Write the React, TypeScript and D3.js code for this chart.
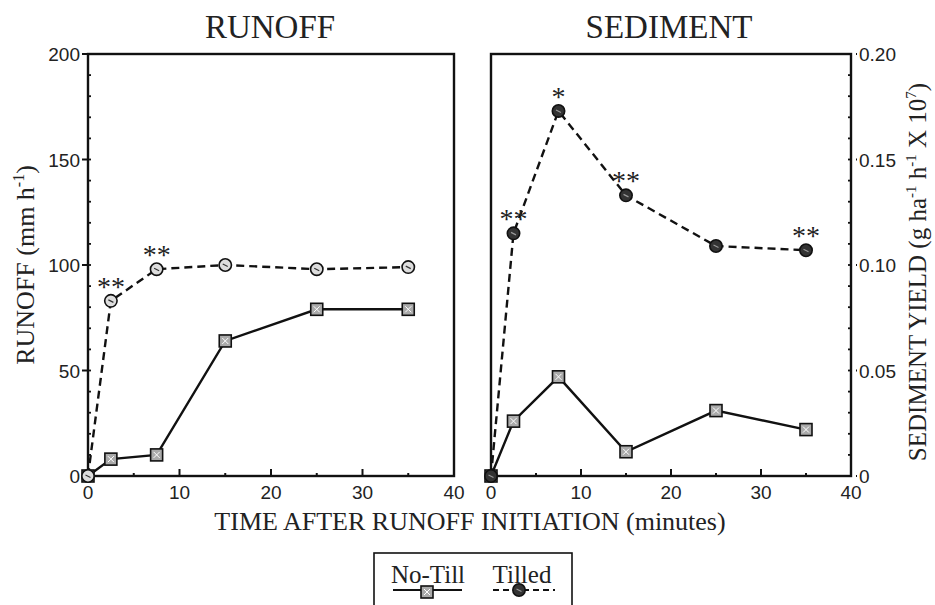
import React from 'react';
import * as d3 from 'd3';

// time after runoff initiation (minutes)
const times = [0, 2.5, 7.5, 15, 25, 35];

// runoff (mm h-1)
const runoffNoTill = [0, 8, 10, 64, 79, 79];
const runoffTilled = [0, 83, 98, 100, 98, 99];
const runoffSig = ['', '**', '**', '', '', ''];

// sediment yield (g ha-1 h-1 x 10^7)
const sedNoTill = [0, 0.026, 0.047, 0.0115, 0.031, 0.022];
const sedTilled = [0, 0.115, 0.173, 0.133, 0.109, 0.107];
const sedSig = ['', '**', '*', '**', '', '**'];

const xTicks = [0, 10, 20, 30, 40];
const runoffTicks = [0, 50, 100, 150, 200];
const sedTicks = [0, 0.05, 0.1, 0.15, 0.2];

const serif = '"Liberation Serif", "DejaVu Serif", serif';
const sans = '"Liberation Sans", Arial, sans-serif';

const top = 54;
const bottom = 476;

type Pt = { t: number; v: number; s?: string };

const zip = (vals: number[], sig?: string[]): Pt[] =>
  times.map((t, i) => ({ t, v: vals[i], s: sig ? sig[i] : '' }));

const Square = ({ x, y }: { x: number; y: number }) => (
  <g>
    <rect x={x - 6} y={y - 6} width={12} height={12} fill="#aaa" stroke="#111" strokeWidth={1.6} />
    <path d={`M${x - 3},${y - 3}L${x + 3},${y + 3}M${x + 3},${y - 3}L${x - 3},${y + 3}`} stroke="#fff" strokeWidth={1} />
  </g>
);

const Circle = ({ x, y, dark }: { x: number; y: number; dark: boolean }) => (
  <g>
    <circle cx={x} cy={y} r={6.2} fill={dark ? '#333' : '#ddd'} stroke="#111" strokeWidth={1.6} />
    <path d={`M${x - 2.5},${y - 1}L${x + 2.5},${y + 1.5}`} stroke={dark ? '#999' : '#333'} strokeWidth={1.2} />
  </g>
);

const Panel = ({
  x0, x1, yMax, noTill, tilled, yTicks, side, fmt, darkCircle,
}: {
  x0: number; x1: number; yMax: number; noTill: Pt[]; tilled: Pt[];
  yTicks: number[]; side: 'left' | 'right'; fmt: (v: number) => string; darkCircle: boolean;
}) => {
  const x = d3.scaleLinear().domain([0, 40]).range([x0, x1]);
  const y = d3.scaleLinear().domain([0, yMax]).range([bottom, top]);
  const line = d3.line<Pt>().x(d => x(d.t)).y(d => y(d.v));
  const minorY = d3.range(0, yMax + 1e-9, yMax / 20);
  const axisX = side === 'left' ? x0 : x1;
  const dir = side === 'left' ? 1 : -1;

  return (
    <g>
      {/* frame */}
      <rect x={x0} y={top} width={x1 - x0} height={bottom - top} fill="none" stroke="#111" strokeWidth={2.4} />

      {/* bottom ticks */}
      {d3.range(5, 40, 5).map(t => (
        <line key={'bx' + t} x1={x(t)} x2={x(t)} y1={bottom} y2={bottom - (t % 10 === 0 ? 7 : 3)} stroke="#111" strokeWidth={2} />
      ))}
      {xTicks.map(t => (
        <text key={'xl' + t} x={x(t)} y={bottom + 23} fontFamily={sans} fontSize={19} textAnchor="middle" fill="#222">{t}</text>
      ))}

      {/* y ticks */}
      {minorY.map(v => (
        <line key={'my' + v} x1={axisX} x2={axisX + dir * 3} y1={y(v)} y2={y(v)} stroke="#111" strokeWidth={1.8} />
      ))}
      {yTicks.map(v => (
        <g key={'yt' + v}>
          <line x1={axisX - dir * 6} x2={axisX + (side === 'right' ? 5 : 0)} y1={y(v)} y2={y(v)} stroke="#111" strokeWidth={2} />
          <text x={axisX - dir * 8} y={y(v) + 7} fontFamily={sans} fontSize={19}
            textAnchor={side === 'left' ? 'end' : 'start'} fill="#222">{fmt(v)}</text>
        </g>
      ))}

      {/* series */}
      <path d={line(noTill) || ''} fill="none" stroke="#111" strokeWidth={2.4} />
      <path d={line(tilled) || ''} fill="none" stroke="#111" strokeWidth={2.4} strokeDasharray="8,5" />
      {noTill.map((d, i) => <Square key={'sq' + i} x={x(d.t)} y={y(d.v)} />)}
      {tilled.map((d, i) => <Circle key={'ci' + i} x={x(d.t)} y={y(d.v)} dark={darkCircle} />)}
      {tilled.filter(d => d.s).map((d, i) => (
        <text key={'sig' + i} x={x(d.t)} y={y(d.v) - 5} fontFamily={serif} fontSize={28} textAnchor="middle" fill="#222">{d.s}</text>
      ))}
    </g>
  );
};

export default function App() {
  return (
    <svg width={935} height={605} style={{ display: 'block', position: 'absolute', left: 0, top: 0, background: '#fff' }}>
      <rect width={935} height={605} fill="#fff" />

      <text x={270} y={38} fontFamily={serif} fontSize={33} textAnchor="middle" fill="#222">RUNOFF</text>
      <text x={669} y={38} fontFamily={serif} fontSize={33} textAnchor="middle" fill="#222">SEDIMENT</text>

      <Panel x0={88} x1={454} yMax={200} noTill={zip(runoffNoTill)} tilled={zip(runoffTilled, runoffSig)}
        yTicks={runoffTicks} side="left" fmt={v => String(v)} darkCircle={false} />
      <Panel x0={491} x1={851} yMax={0.2} noTill={zip(sedNoTill)} tilled={zip(sedTilled, sedSig)}
        yTicks={sedTicks} side="right" fmt={v => (v === 0 ? '0' : v.toFixed(2))} darkCircle={true} />

      {/* y axis titles */}
      <text transform="translate(34,265) rotate(-90)" fontFamily={serif} fontSize={26} textAnchor="middle" fill="#222">
        RUNOFF (mm h<tspan dy={-10} fontSize={16}>-1</tspan><tspan dy={10}>)</tspan>
      </text>
      <text transform="translate(926,272) rotate(-90)" fontFamily={serif} fontSize={25} textAnchor="middle" fill="#222">
        SEDIMENT YIELD (g ha<tspan dy={-10} fontSize={15}>-1</tspan><tspan dy={10}> h</tspan>
        <tspan dy={-10} fontSize={15}>-1</tspan><tspan dy={10}> X 10</tspan><tspan dy={-10} fontSize={15}>7</tspan>
        <tspan dy={10}>)</tspan>
      </text>

      <text x={470} y={530} fontFamily={serif} fontSize={26} textAnchor="middle" fill="#222">
        TIME AFTER RUNOFF INITIATION (minutes)
      </text>

      {/* legend */}
      <rect x={374} y={553} width={198} height={60} fill="none" stroke="#111" strokeWidth={1.6} />
      <text x={428} y={583} fontFamily={serif} fontSize={25} textAnchor="middle" fill="#222">No-Till</text>
      <text x={522} y={583} fontFamily={serif} fontSize={25} textAnchor="middle" fill="#222">Tilled</text>
      <line x1={393} x2={462} y1={590} y2={590} stroke="#111" strokeWidth={2.2} />
      <Square x={427} y={592} />
      <line x1={493} x2={555} y1={590} y2={590} stroke="#111" strokeWidth={2.2} strokeDasharray="6,4" />
      <Circle x={519} y={590} dark={true} />
    </svg>
  );
}
